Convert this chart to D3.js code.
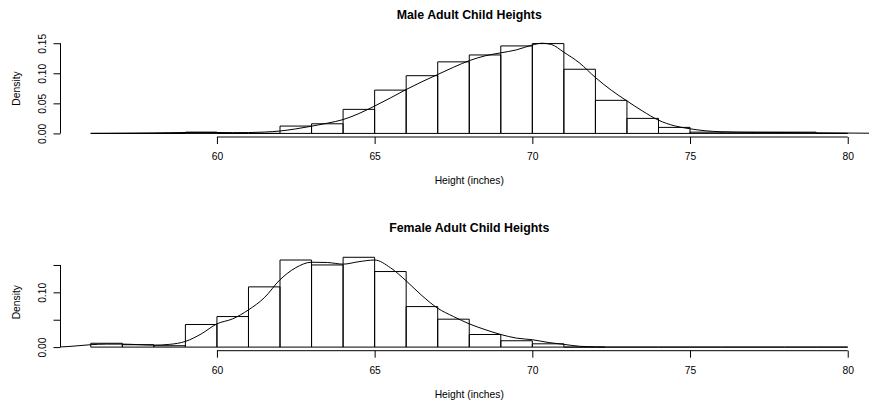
<!DOCTYPE html>
<html>
<head>
<meta charset="utf-8">
<script src="https://cdn.jsdelivr.net/npm/d3@7"></script>
<style>
  body { margin: 0; background: #fff; }
  text { font-family: "Liberation Sans", Arial, Helvetica, sans-serif; fill: #000; }
</style>
</head>
<body>
<svg id="chart" width="869" height="404"></svg>
<script>
// Histogram bin edges (1-inch bins from 56 to 80)
const binEdges = d3.range(56, 81);

// Bar densities, one per bin (56-57 ... 79-80)
const maleDensity = [0, 0, 0, 0.0021, 0, 0, 0.0122, 0.016, 0.040, 0.072, 0.096, 0.119,
  0.1305, 0.1455, 0.1494, 0.1067, 0.055, 0.025, 0.010, 0.0021, 0.0021, 0.0021, 0.0021, 0];
const femaleDensity = [0.007, 0.0044, 0.0025, 0.0413, 0.0558, 0.110, 0.159, 0.150, 0.164,
  0.138, 0.074, 0.051, 0.023, 0.0116, 0.006, 0, 0, 0, 0, 0, 0, 0, 0, 0];

// Kernel density estimate curves
const maleCurveX = [56, 56.5, 57, 57.5, 58, 58.5, 59, 59.5, 60, 60.5, 61, 61.5, 62, 62.5, 63, 63.5,
  64, 64.5, 65, 65.5, 66, 66.5, 67, 67.5, 68, 68.5, 69, 69.5, 70, 70.3, 70.6, 71, 71.5, 72, 72.5,
  73, 73.5, 74, 74.5, 75, 75.5, 76, 77, 78, 79, 80, 81, 81.5];
const maleCurveY = [0, 0.0001, 0.0003, 0.0005, 0.0008, 0.0012, 0.0015, 0.0016, 0.0015, 0.0013,
  0.0014, 0.0022, 0.004, 0.0075, 0.012, 0.017, 0.023, 0.033, 0.0455, 0.059, 0.073, 0.086, 0.098,
  0.110, 0.121, 0.129, 0.134, 0.139, 0.147, 0.150, 0.148, 0.135, 0.117, 0.093, 0.072, 0.054, 0.037,
  0.022, 0.0127, 0.0077, 0.0043, 0.0027, 0.0017, 0.0015, 0.001, 0.0006, 0.0002, 0];

const femaleCurveX = [54.5, 55, 55.5, 56, 56.5, 57, 57.5, 58, 58.5, 59, 59.5, 60, 60.5, 61, 61.5,
  62, 62.5, 63, 63.5, 64, 64.5, 65, 65.5, 66, 66.5, 67, 67.5, 68, 68.5, 69, 69.5, 70, 70.5, 71,
  71.5, 72, 72.3];
const femaleCurveY = [0, 0.0002, 0.002, 0.0044, 0.0055, 0.0055, 0.0045, 0.0036, 0.005, 0.0104,
  0.024, 0.0425, 0.0516, 0.068, 0.090, 0.123, 0.145, 0.155, 0.1545, 0.1515, 0.156, 0.159, 0.145,
  0.121, 0.094, 0.071, 0.0558, 0.0425, 0.032, 0.023, 0.0164, 0.0135, 0.0085, 0.005, 0.0015,
  0.0004, 0];

// Axis ticks and labels
const xTicks = [60, 65, 70, 75, 80];
const yTicks = [0, 0.05, 0.10, 0.15];
const maleYTickLabels = ["0.00", "0.05", "0.10", "0.15"];
const femaleYTickLabels = ["0.00", "", "0.10", ""];
const titles = ["Male Adult Child Heights", "Female Adult Child Heights"];
const xLabel = "Height (inches)";
const yLabel = "Density";

const svg = d3.select("#chart");
svg.append("rect").attr("width", 869).attr("height", 404).attr("fill", "#fff");

const plotLeft = 60.5, plotRight = 878, plotHeight = 97;
const baseFont = 10.3;

// R-style 4% padding on the x range
const xMin = binEdges[0], xMax = binEdges[binEdges.length - 1];
const xPad = 0.04 * (xMax - xMin);
const x = d3.scaleLinear().domain([xMin - xPad, xMax + xPad]).range([plotLeft, plotRight]);

const panels = [
  { bottom: 137, bars: maleDensity, cx: maleCurveX, cy: maleCurveY, yLabels: maleYTickLabels, title: titles[0] },
  { bottom: 350.7, bars: femaleDensity, cx: femaleCurveX, cy: femaleCurveY, yLabels: femaleYTickLabels, title: titles[1] }
];

panels.forEach((p, i) => {
  const top = p.bottom - plotHeight;
  const m = d3.max(p.bars);
  const y = d3.scaleLinear().domain([-0.04 * m, 1.04 * m]).range([p.bottom, top]);

  const g = svg.append("g");
  const clipId = "clip" + i;
  svg.append("clipPath").attr("id", clipId)
    .append("rect").attr("x", plotLeft).attr("y", top)
    .attr("width", plotRight - plotLeft).attr("height", plotHeight);

  const plot = g.append("g").attr("clip-path", `url(#${clipId})`);

  // histogram bars, drawn as closed outlines so empty bins still show on the baseline
  plot.selectAll("path.bar").data(p.bars).enter().append("path")
    .attr("class", "bar")
    .attr("d", (d, j) => {
      const x0 = x(binEdges[j]), x1 = x(binEdges[j + 1]);
      const y0 = y(0), y1 = y(d);
      return `M${x0},${y0}H${x1}V${y1}H${x0}Z`;
    })
    .attr("fill", "none")
    .attr("stroke", "#000")
    .attr("stroke-width", 1);

  // density curve
  const pts = p.cx.map((v, j) => [v, p.cy[j]]);
  plot.append("path")
    .datum(pts)
    .attr("d", d3.line().x(d => x(d[0])).y(d => y(d[1])).curve(d3.curveMonotoneX))
    .attr("fill", "none")
    .attr("stroke", "#000")
    .attr("stroke-width", 1);

  // x axis (line spans first to last tick)
  const xAxis = g.append("g").attr("transform", `translate(0,${p.bottom})`)
    .call(d3.axisBottom(x).tickValues(xTicks).tickFormat(d3.format("d"))
      .tickSize(7).tickPadding(8.7));
  xAxis.select(".domain").remove();
  xAxis.append("line")
    .attr("x1", x(xTicks[0])).attr("x2", x(xTicks[xTicks.length - 1]))
    .attr("stroke", "#000");
  xAxis.selectAll("text").attr("font-size", baseFont).attr("font-family", null).attr("fill", "#000");
  xAxis.selectAll(".tick line").attr("stroke", "#000");

  // y axis (line spans first to last tick)
  const yAxis = g.append("g").attr("transform", `translate(${plotLeft},0)`)
    .call(d3.axisLeft(y).tickValues(yTicks).tickFormat((d, j) => p.yLabels[j]).tickSize(7));
  yAxis.select(".domain").remove();
  yAxis.append("line")
    .attr("y1", y(yTicks[0])).attr("y2", y(yTicks[yTicks.length - 1]))
    .attr("stroke", "#000");
  yAxis.selectAll(".tick line").attr("stroke", "#000");
  yAxis.selectAll(".tick text")
    .attr("x", null).attr("dy", null)
    .attr("transform", "translate(-14.6,0) rotate(-90)")
    .attr("text-anchor", "middle")
    .attr("font-size", baseFont).attr("font-family", null).attr("fill", "#000");

  // title
  g.append("text")
    .attr("x", (plotLeft + plotRight) / 2).attr("y", top - 21.5)
    .attr("text-anchor", "middle").attr("font-weight", "bold")
    .attr("font-size", baseFont * 1.2)
    .text(p.title);

  // x label
  g.append("text")
    .attr("x", (plotLeft + plotRight) / 2).attr("y", p.bottom + 47)
    .attr("text-anchor", "middle").attr("font-size", baseFont)
    .text(xLabel);

  // y label
  g.append("text")
    .attr("transform", `translate(20,${(top + p.bottom) / 2}) rotate(-90)`)
    .attr("text-anchor", "middle").attr("font-size", baseFont)
    .text(yLabel);
});
</script>
</body>
</html>
